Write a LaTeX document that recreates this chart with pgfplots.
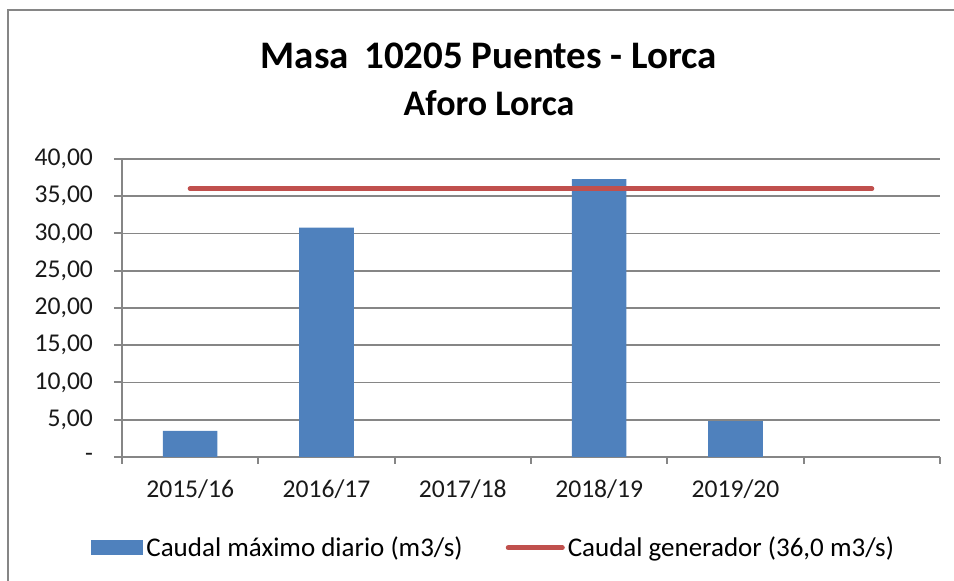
\documentclass[border=0pt]{standalone}
\usepackage{pgfplots}
\pgfplotsset{compat=1.18}
\usepackage{fontspec}
\setmainfont{Carlito}
\definecolor{barblue}{HTML}{4F81BD}
\definecolor{linered}{HTML}{C0504D}
\definecolor{gridgray}{HTML}{868686}
\begin{document}
\begin{tikzpicture}
\begin{axis}[
  scale only axis, width=409pt, height=149pt,
  at={(0pt,0pt)}, anchor=south west,
  xmin=-0.5, xmax=5.5, ymin=0, ymax=40,
  axis x line=bottom, axis y line=left,
  axis line style={-, draw=gridgray, line width=1pt},
  xtick={0,1,2,3,4},
  xticklabels={2015/16,2016/17,2017/18,2018/19,2019/20},
  major x tick style={draw=none},
  minor xtick={-0.5,0.5,1.5,2.5,3.5,4.5,5.5},
  minor x tick style={draw=gridgray, line width=1pt},
  minor tick length=3.5pt,
  ytick={0,5,10,15,20,25,30,35,40},
  yticklabels={{-\hspace{6pt}},{5,00},{10,00},{15,00},{20,00},{25,00},{30,00},{35,00},{40,00}},
  major y tick style={draw=gridgray, line width=1pt},
  tick align=outside, major tick length=4pt,
  ymajorgrids, grid style={draw=gridgray, line width=0.9pt},
  tick label style={font=\fontsize{12.8}{15}\selectfont, text=black!90},
  xticklabel style={yshift=-4pt},
  yticklabel style={xshift=-7pt},
  legend style={at={(axis description cs:0.455,-0.305)}, anchor=center, draw=none,
    font=\fontsize{13.5}{16}\selectfont, inner sep=0pt, nodes={inner sep=1.5pt},
    /tikz/every even column/.append style={column sep=20pt}},
  legend columns=2,
]
\addplot[ybar, bar width=0.4, fill=barblue, draw=none,
  legend image code/.code={\fill[barblue] (0pt,-3.8pt) rectangle (26pt,3.8pt);}]
  coordinates {(0,3.5) (1,30.8) (3,37.3) (4,4.8)};
\addlegendentry{Caudal máximo diario (m3/s)}
\addplot[linered, line width=2.5pt, line cap=round, mark=none,
  legend image code/.code={\draw[linered, line width=2.5pt, line cap=round] (1pt,0pt) -- (28pt,0pt);}]
  coordinates {(0,36) (5,36)};
\addlegendentry{Caudal generador (36,0 m3/s)}
\end{axis}
\node[anchor=base, font=\bfseries\fontsize{19.5}{22}\selectfont] at (183.5pt,194pt) {Masa\, 10205 Puentes - Lorca};
\node[anchor=base, font=\bfseries\fontsize{18}{21}\selectfont] at (183.5pt,170.5pt) {Aforo Lorca};
\draw[gridgray, line width=1.2pt] (-57pt,-62pt) -- (-57pt,223.5pt) -- (416pt,223.5pt);
\pgfresetboundingbox
\useasboundingbox (-61pt,-62pt) rectangle (416pt,228.5pt);
\end{tikzpicture}
\end{document}
